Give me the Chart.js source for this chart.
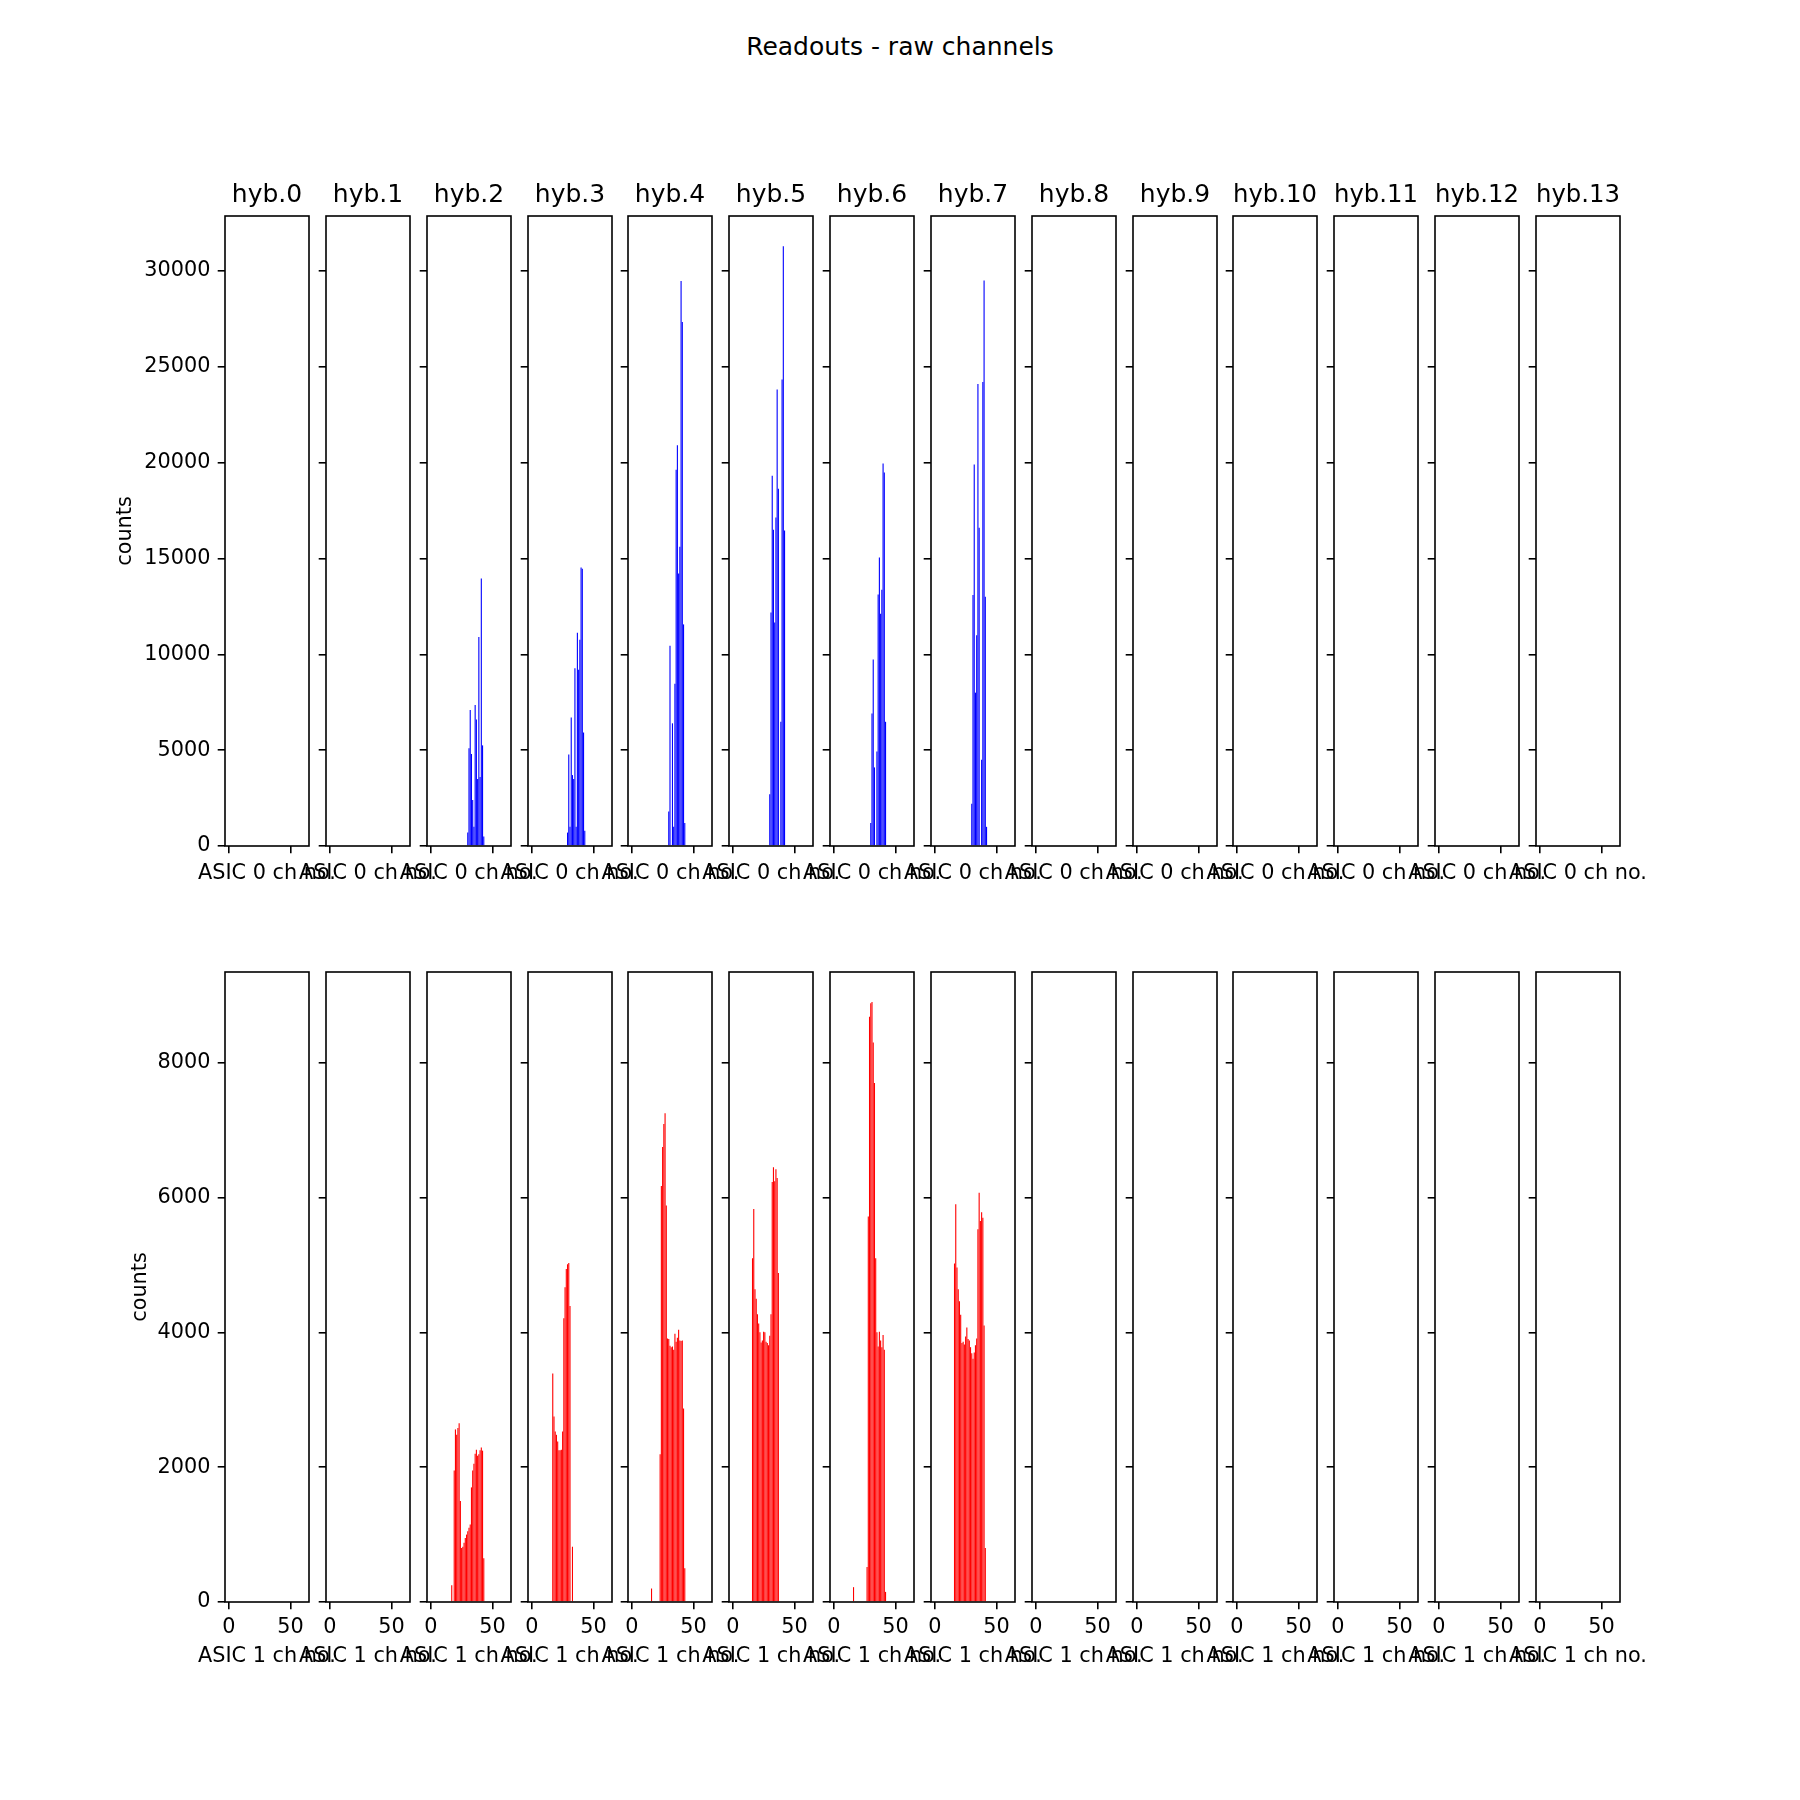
<!DOCTYPE html>
<html>
<head>
<meta charset="utf-8">
<title>Readouts - raw channels</title>
<script src="https://cdn.jsdelivr.net/npm/chart.js@4.4.0/dist/chart.umd.min.js"></script>
<style>
  html, body { margin: 0; padding: 0; background: #fff; }
  #fig { position: relative; width: 1800px; height: 1800px; background: #fff; overflow: hidden;
         font-family: 'DejaVu Sans', sans-serif; color: #000; }
  #fig canvas { position: absolute; }
  .lbl { position: absolute; white-space: nowrap; transform: translate(-50%, -50%);
         font-size: 20.8px; line-height: 1; }
  .suptitle { font-size: 25px; }
</style>
</head>
<body>
<div id="fig"></div>
<script>
// --- data ---
const hybNames = ['hyb.0', 'hyb.1', 'hyb.2', 'hyb.3', 'hyb.4', 'hyb.5', 'hyb.6',
                  'hyb.7', 'hyb.8', 'hyb.9', 'hyb.10', 'hyb.11', 'hyb.12', 'hyb.13'];
const channelTicks = [0, 50];
const channelRange = [-3.1, 65.1];
const asic0CountTicks = [0, 5000, 10000, 15000, 20000, 25000, 30000];
const asic1CountTicks = [0, 2000, 4000, 6000, 8000];
const asic0CountMax = 32865;
const asic1CountMax = 9345;

// ASIC 0 (first channel of each list is in asic0FirstCh)
const asic0_hyb2 = [700, 5100, 7100, 4800, 2400, 1000, 7350, 6600, 3500, 10900, 3600, 13950, 5250, 500];
const asic0_hyb3 = [700, 4770, 1000, 6700, 3700, 3500, 9270, 1000, 11130, 9200, 10760, 14530, 14460, 5920, 800];
const asic0_hyb4 = [1800, 10450, 0, 6400, 1000, 8470, 19630, 20900, 14220, 15610, 29470, 27330, 11560, 1200];
const asic0_hyb5 = [2700, 12180, 19320, 16500, 11660, 17140, 23820, 18640, 0, 6480, 24340, 31290, 16460];
const asic0_hyb6 = [1200, 6910, 9730, 4100, 0, 4930, 13120, 15050, 12120, 13370, 19950, 19490, 6480];
const asic0_hyb7 = [2200, 13100, 19900, 8000, 11000, 24100, 16600, 0, 4500, 24200, 29500, 13000, 1000];
const asic0FirstCh = [0, 0, 30, 29, 30, 30, 30, 30, 0, 0, 0, 0, 0, 0];

// ASIC 1
const asic1_hyb2 = [250, 0, 1950, 2560, 2480, 2580, 2650, 1500, 800, 820, 880, 950, 1000, 1050, 1100, 1150,
                    1700, 1950, 2050, 2200, 2260, 2170, 2190, 2250, 2290, 2245, 650];
const asic1_hyb3 = [3390, 2750, 2530, 2480, 2380, 2250, 2250, 2260, 2530, 4210, 4670, 4940, 5010, 5030, 4390, 0, 820];
const asic1_hyb4 = [200, 0, 0, 0, 0, 0, 0, 2190, 6170, 6750, 7090, 7250, 5880, 3910, 3900, 3800, 3780, 3790,
                    3740, 3980, 3860, 3920, 4040, 3880, 3870, 3880, 2870, 500];
const asic1_hyb5 = [5100, 5830, 4640, 4500, 4270, 4130, 4000, 3850, 3880, 4010, 4000, 3860, 3840, 3810, 3950,
                    4270, 6230, 6450, 6240, 6420, 6290, 4880];
const asic1_hyb6 = [220, 0, 0, 0, 0, 0, 0, 0, 0, 0, 0, 520, 5720, 8680, 8880, 8900, 8300, 7700, 5100, 4000,
                    3790, 4010, 3880, 3780, 3960, 3740, 150];
const asic1_hyb7 = [5020, 5900, 4960, 4640, 4460, 4260, 3840, 3860, 3820, 3940, 4070, 3900, 3880, 3780, 3690,
                    3610, 3700, 3810, 3910, 5530, 6070, 5650, 5780, 5700, 4100, 800];
const asic1FirstCh = [0, 0, 17, 17, 16, 16, 16, 16, 0, 0, 0, 0, 0, 0];

const asic0Lists = [[], [], asic0_hyb2, asic0_hyb3, asic0_hyb4, asic0_hyb5, asic0_hyb6, asic0_hyb7, [], [], [], [], [], []];
const asic1Lists = [[], [], asic1_hyb2, asic1_hyb3, asic1_hyb4, asic1_hyb5, asic1_hyb6, asic1_hyb7, [], [], [], [], [], []];

// --- figure geometry (matplotlib default subplot params) ---
const FIG = 1800;
const FONT = 'DejaVu Sans';
const TICK_PX = 20.8, TITLE_PX = 25;
const axLeft0 = 0.125 * FIG, axRight = 0.9 * FIG;
const nCols = hybNames.length;
const axW = (axRight - axLeft0) / (nCols + (nCols - 1) * 0.2);
const colStep = axW * 1.2;
const axH = (0.88 - 0.11) * FIG / 2.2;
const rowTops = [0.12 * FIG, 0.12 * FIG + axH * 1.2];

const rows = [
  { lists: asic0Lists, first: asic0FirstCh, ticks: asic0CountTicks, max: asic0CountMax,
    color: '#0000ff', xlabel: 'ASIC 0 ch no.', showX: false, ytitlePad: 18, xlabelOff: 26 },
  { lists: asic1Lists, first: asic1FirstCh, ticks: asic1CountTicks, max: asic1CountMax,
    color: '#ff0000', xlabel: 'ASIC 1 ch no.', showX: true, ytitlePad: 33, xlabelOff: 53 }
];

Chart.defaults.font.family = FONT;
Chart.defaults.color = '#000';

// black frame round every axes box
const frameBox = {
  id: 'frameBox',
  afterDraw(chart) {
    const { ctx, chartArea: a } = chart;
    ctx.save();
    ctx.strokeStyle = '#000';
    ctx.lineWidth = 1.6;
    ctx.strokeRect(a.left, a.top, a.right - a.left, a.bottom - a.top);
    ctx.restore();
  }
};

const fig = document.getElementById('fig');

function addLabel(text, x, y, cls) {
  const d = document.createElement('div');
  d.className = 'lbl' + (cls ? ' ' + cls : '');
  d.textContent = text;
  d.style.left = x + 'px';
  d.style.top = y + 'px';
  fig.appendChild(d);
}

function toPoints(start, counts) {
  return counts.map((v, i) => ({ x: start + i, y: v }));
}

const PAD_L = 130, PAD_R = 130, PAD_B = 60;

rows.forEach((row, r) => {
  for (let c = 0; c < nCols; c++) {
    const axLeft = axLeft0 + c * colStep;
    const axTop = rowTops[r];
    const padT = r === 0 ? 58 : 20;

    const canvas = document.createElement('canvas');
    canvas.width = Math.round(PAD_L + axW + PAD_R);
    canvas.height = Math.round(padT + axH + PAD_B);
    fig.appendChild(canvas);

    const chart = new Chart(canvas, {
      type: 'bar',
      data: {
        datasets: [{
          data: toPoints(row.first[c], row.lists[c]),
          backgroundColor: row.color,
          borderWidth: 0,
          barPercentage: 0.9,
          categoryPercentage: 1.0
        }]
      },
      options: {
        responsive: false,
        animation: false,
        devicePixelRatio: 1,
        layout: { autoPadding: false, padding: { left: 0, right: PAD_R, top: r === 0 ? 0 : padT, bottom: 0 } },
        plugins: {
          legend: { display: false },
          tooltip: { enabled: false },
          title: {
            display: r === 0,
            text: hybNames[c],
            fullSize: false,
            color: '#000',
            font: { size: TITLE_PX, family: FONT, weight: 'normal', lineHeight: 1.2 },
            padding: { top: 22, bottom: 6 }
          }
        },
        scales: {
          x: {
            type: 'linear',
            min: channelRange[0],
            max: channelRange[1],
            offset: false,
            afterBuildTicks: s => { s.ticks = channelTicks.map(v => ({ value: v })); },
            afterFit: s => { s.height = PAD_B; },
            grid: { offset: false, drawOnChartArea: false, drawTicks: true, tickLength: 7.3, color: '#000', lineWidth: 1.6 },
            border: { display: false },
            ticks: {
              autoSkip: false, maxRotation: 0, padding: 6, color: '#000',
              font: { size: TICK_PX, family: FONT },
              callback: v => row.showX ? String(v) : ''
            }
          },
          y: {
            type: 'linear',
            min: 0,
            max: row.max,
            afterBuildTicks: s => { s.ticks = row.ticks.map(v => ({ value: v })); },
            afterFit: s => { s.width = PAD_L; },
            grid: { drawOnChartArea: false, drawTicks: true, tickLength: 7.3, color: '#000', lineWidth: 1.6 },
            border: { display: false },
            ticks: {
              autoSkip: false, padding: 7.3, color: '#000',
              font: { size: TICK_PX, family: FONT },
              callback: v => c === 0 ? String(v) : ''
            },
            title: {
              display: c === 0,
              text: 'counts',
              color: '#000',
              font: { size: TICK_PX, family: FONT },
              padding: { top: row.ytitlePad, bottom: 0 }
            }
          }
        }
      },
      plugins: [frameBox]
    });

    const a = chart.chartArea;
    canvas.style.left = (axLeft - a.left) + 'px';
    canvas.style.top = (axTop - a.top) + 'px';

    addLabel(row.xlabel, axLeft + axW / 2, axTop + axH + row.xlabelOff);
  }
});

addLabel('Readouts - raw channels', FIG / 2, 46, 'suptitle');
</script>
</body>
</html>
